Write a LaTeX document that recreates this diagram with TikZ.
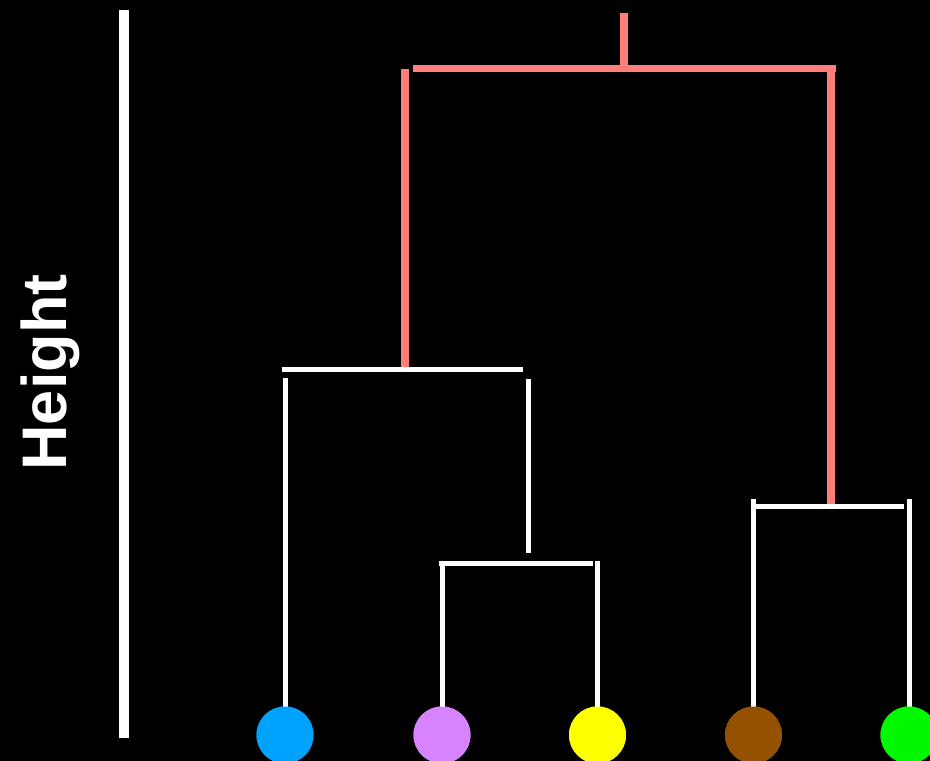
\documentclass[tikz,border=0pt]{standalone}
\usepackage{fontspec}
\setmainfont{Liberation Sans}
\definecolor{salmon}{HTML}{FF7E79}
\definecolor{leafblue}{HTML}{00A2FF}
\definecolor{leafviolet}{HTML}{D783FF}
\definecolor{leafyellow}{HTML}{FFFF00}
\definecolor{leafbrown}{HTML}{945200}
\definecolor{leafgreen}{HTML}{00F900}
\begin{document}
\begin{tikzpicture}[x=1pt,y=-1pt,
  wline/.style={draw=white,line width=5pt,line cap=butt},
  sline/.style={draw=salmon,line width=8pt,line cap=butt},
  axisline/.style={draw=white,line width=9.5pt,line cap=butt},
  leaf/.style={circle,inner sep=0pt,minimum size=57pt,draw=none}]
\fill[black] (0,0) rectangle (930,761);
\useasboundingbox (0,0) rectangle (930,761);
\clip (0,0) rectangle (930,761);
% leaves
\node[leaf,fill=leafblue]   (A) at (285,735) {};
\node[leaf,fill=leafviolet] (B) at (442,735) {};
\node[leaf,fill=leafyellow] (C) at (597.5,735) {};
\node[leaf,fill=leafbrown]  (D) at (753.5,735) {};
\node[leaf,fill=leafgreen]  (E) at (909,735) {};
% junction coordinates
\coordinate (rootTop) at (624.3,13);
\coordinate (rootJ) at (624.3,66);
\coordinate (rootL) at (413,68.7);
\coordinate (rootR) at (836,68.7);
\coordinate (leftTop) at (405,69);
\coordinate (leftBot) at (405,370);
\coordinate (rightTop) at (831.3,65);
\coordinate (rightBot) at (831.3,503.5);
\coordinate (h1L) at (281.7,369);
\coordinate (h1R) at (523.3,369);
\coordinate (aTop) at (285,378);
\coordinate (bcTop) at (528,379);
\coordinate (bcBot) at (528,553.3);
\coordinate (h2L) at (439.3,563);
\coordinate (h2R) at (592.7,563);
\coordinate (bTop) at (442,561);
\coordinate (cTop) at (597.5,561);
\coordinate (h3L) at (750.7,506);
\coordinate (h3R) at (904.3,506);
\coordinate (dTop) at (753.5,499.3);
\coordinate (eTop) at (909,499.3);
\coordinate (axTop) at (124,10);
\coordinate (axBot) at (124,738);
% axis
\draw[axisline] (axTop) -- (axBot);
\node[rotate=90,anchor=base,inner sep=0pt,text=white,font=\fontsize{63}{63}\selectfont\bfseries] (lbl) at (66.5,372.5) {Height};
% salmon top
\draw[sline] (rootTop) -- (rootJ);
\draw[sline,line width=7.4pt] (rootL) -- (rootR);
\draw[sline] (leftTop) -- (leftBot);
\draw[sline] (rightTop) -- (rightBot);
% white
\draw[wline] (h1L) -- (h1R);
\draw[wline] (aTop) -- (A.center);
\draw[wline] (bcTop) -- (bcBot);
\draw[wline] (h2L) -- (h2R);
\draw[wline] (bTop) -- (B.center);
\draw[wline] (cTop) -- (C.center);
\draw[wline] (h3L) -- (h3R);
\draw[wline] (dTop) -- (D.center);
\draw[wline] (eTop) -- (E.center);
% redraw leaves on top
\fill[leafblue]   (A) circle (28.5);
\fill[leafviolet] (B) circle (28.5);
\fill[leafyellow] (C) circle (28.5);
\fill[leafbrown]  (D) circle (28.5);
\fill[leafgreen]  (E) circle (28.5);
\end{tikzpicture}
\end{document}
